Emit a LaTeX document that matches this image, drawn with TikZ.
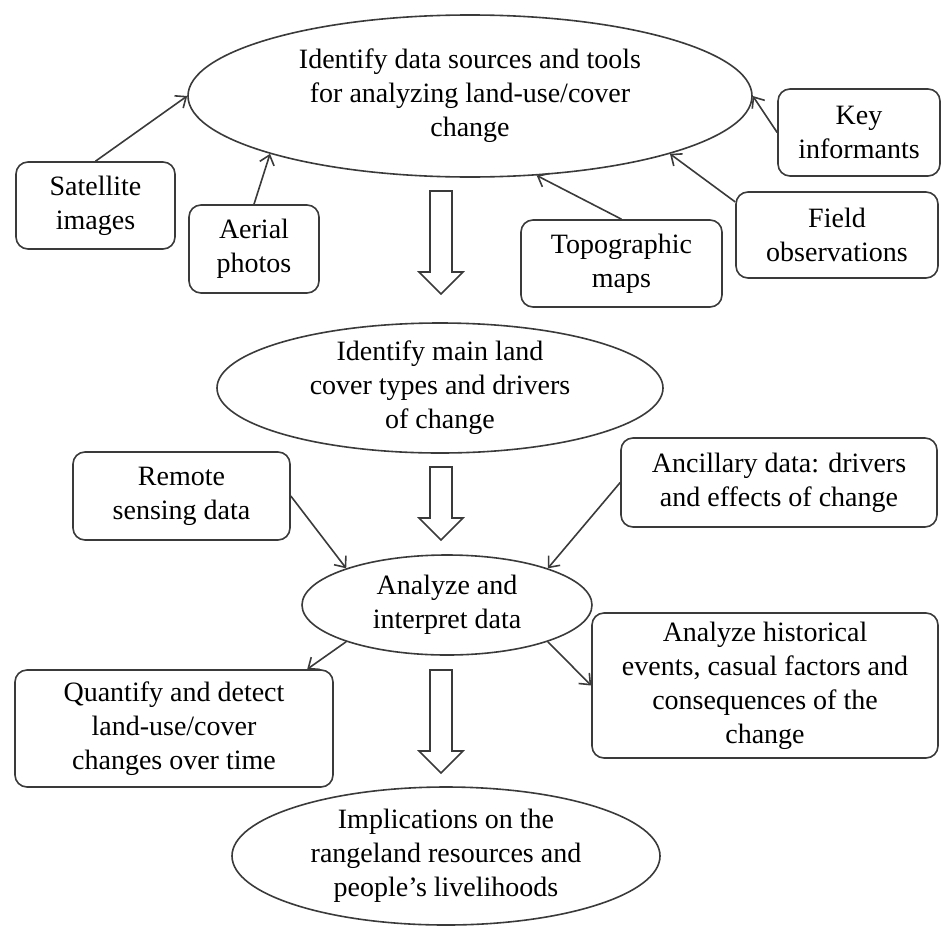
\documentclass[tikz,border=0pt]{standalone}
\usepackage{fontspec}
\setmainfont{Liberation Serif}
\usetikzlibrary{shapes.geometric,arrows.meta}
\definecolor{linegray}{HTML}{3A3A3A}
\newcommand{\blockdown}[3]{%
  \draw[bigarrow] (#1-11,#2) -- (#1+11,#2) -- (#1+11,#3-22) -- (#1+22,#3-22)
    -- (#1,#3) -- (#1-22,#3-22) -- (#1-11,#3-22) -- cycle;}
\begin{document}
\begin{tikzpicture}[x=1pt, y=-1pt,
    txt/.style={font=\fontsize{28}{34}\selectfont, align=center, text=black},
    oval/.style={txt, ellipse, draw=linegray, line width=1.6pt, inner xsep=0pt, inner ysep=-8pt},
    box/.style={txt, rectangle, rounded corners=12pt, draw=linegray, line width=1.6pt},
    link/.style={draw=linegray, line width=1.6pt, -{Straight Barb[length=9pt,width=15pt]}},
    bigarrow/.style={draw=linegray, line width=1.6pt, fill=white, line join=miter}]
    \useasboundingbox (0,0) rectangle (941,926);
    \node[oval, minimum width=564, minimum height=162] (sources) at (470,96) {Identify data sources and tools\\for analyzing land-use/cover\\change};
    \node[box, minimum width=159, minimum height=87] (satellite) at (95.5,205.5) {Satellite\\images};
    \node[box, minimum width=130, minimum height=88] (aerial) at (254,249) {Aerial\\photos};
    \node[box, minimum width=201, minimum height=87] (topo) at (621.5,263.5) {Topographic\\maps};
    \node[box, minimum width=202, minimum height=86] (field) at (837,235) {Field\\observations};
    \node[box, minimum width=162, minimum height=87] (key) at (859,132.5) {Key\\informants};
    \node[oval, minimum width=446, minimum height=130] (cover) at (440,388) {Identify main land\\cover types and drivers\\of change};
    \node[box, minimum width=217, minimum height=88] (remote) at (181.5,496) {Remote\\sensing data};
    \node[box, minimum width=316, minimum height=89] (ancillary) at (779,482.5) {Ancillary data: drivers\\and effects of change};
    \node[oval, minimum width=290, minimum height=100] (analyze) at (447,605) {Analyze and\\interpret data};
    \node[box, minimum width=318, minimum height=117] (quantify) at (174,728.5) {Quantify and detect\\land-use/cover\\changes over time};
    \node[box, minimum width=346, minimum height=145] (history) at (765,685.5) {Analyze historical\\events, casual factors and\\consequences of the\\change};
    \node[oval, minimum width=428, minimum height=138] (implic) at (446,856) {Implications on the\\rangeland resources and\\people's livelihoods};

    \draw[link] (satellite.north) -- (sources.west);
    \draw[link] (aerial.north) -- (sources.south west);
    \draw[link] (topo.north) -- (sources.-50);
    \draw[link] (field.162) -- (sources.south east);
    \draw[link] (key.west) -- (sources.east);
    \draw[link] (remote.east) -- (analyze.160);
    \draw[link] (ancillary.west) -- (analyze.20);
    \draw[link] (analyze.200) -- (quantify.24);
    \draw[link] (analyze.-20) -- (history.west);

    \blockdown{441}{191}{294}
    \blockdown{441}{467}{540}
    \blockdown{441}{670}{773}
\end{tikzpicture}
\end{document}
